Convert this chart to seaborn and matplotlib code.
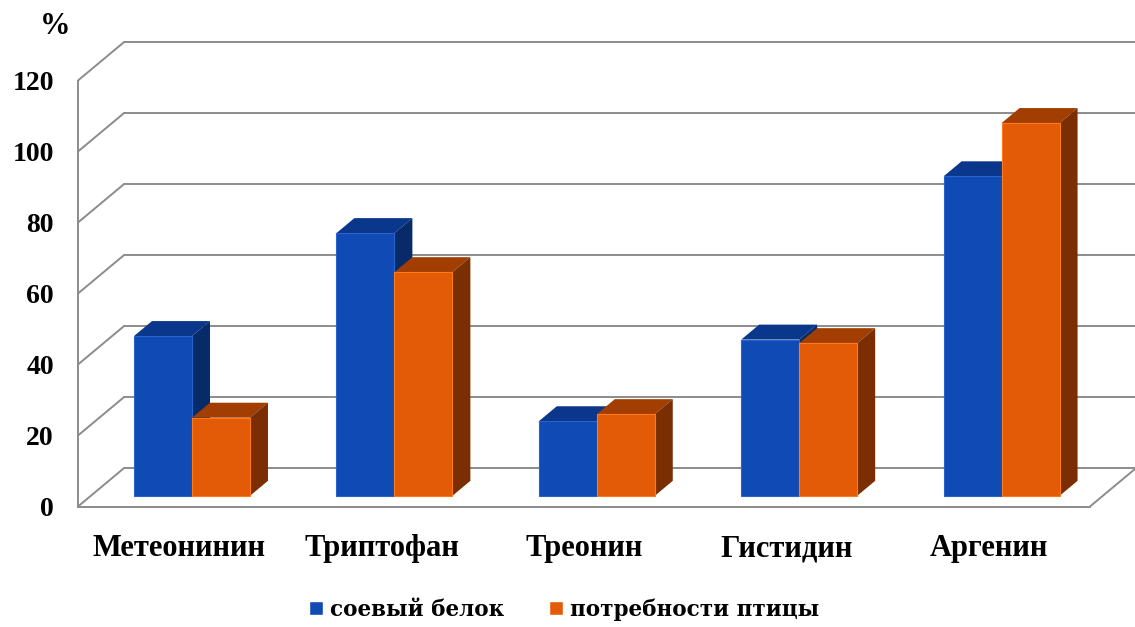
import matplotlib
matplotlib.use("Agg")
import matplotlib.pyplot as plt
from matplotlib.patches import Polygon
import pandas as pd
import seaborn as sns

# ---- data ----
amino_acids = ["Метеонинин", "Триптофан", "Треонин", "Гистидин", "Аргенин"]
soy_protein = [45, 74, 21, 44, 90]
bird_needs = [22, 63, 23, 43, 105]
series_names = ["соевый белок", "потребности птицы"]
y_ticks = [0, 20, 40, 60, 80, 100, 120]

# ---- style ----
W, H, DPI = 1135, 627, 100
sns.set_style("white")
plt.rcParams["font.family"] = ["Liberation Serif", "DejaVu Serif"]
plt.rcParams["font.weight"] = "bold"
plt.rcParams["text.color"] = "black"
plt.rcParams["xtick.labelcolor"] = "black"
plt.rcParams["ytick.labelcolor"] = "black"

front_col = {series_names[0]: "#0F4AB5", series_names[1]: "#E35B07"}
top_col = {series_names[0]: "#0A378C", series_names[1]: "#A23E02"}
side_col = {series_names[0]: "#072B68", series_names[1]: "#7A2E01"}
edge_col = {series_names[0]: "#2A62CC", series_names[1]: "#FF7A1A"}
grid_col = "#8C8C8C"

# oblique projection of the depth axis (data units)
DX, DY = 0.227, 10.8           # full floor depth
Z_FRONT, Z_DEPTH = 0.28, 0.39  # bar front plane and bar thickness, as depth fractions
PAIR_W = 0.573
n = len(amino_acids)
x0 = -0.5 - Z_FRONT * DX       # left edge of the front floor edge
ymax = y_ticks[-1]

# pixel scale of the plot area
PX_X, PX_Y = 202.4, 3.55
LEFT_PX, ZERO_PX = 78, 506.5

fig = plt.figure(figsize=(W / DPI, H / DPI), dpi=DPI)
ax = fig.add_axes([0, 0, 1, 1])

df = pd.DataFrame({
    "amino": amino_acids * 2,
    "value": soy_protein + bird_needs,
    "series": [series_names[0]] * n + [series_names[1]] * n,
})
sns.barplot(data=df, x="amino", y="value", hue="series", order=amino_acids,
            hue_order=series_names, palette=[front_col[s] for s in series_names],
            saturation=1, width=PAIR_W, errorbar=None, ax=ax)

handles, labels = ax.get_legend_handles_labels()
if ax.get_legend() is not None:
    ax.get_legend().remove()

# extrude each bar into a box: front face lifted to its depth plane, plus top and side faces
base = Z_FRONT * DY
ddx, ddy = Z_DEPTH * DX, Z_DEPTH * DY
for j, (name, cont) in enumerate(zip(series_names, ax.containers)):
    for bar in cont:
        bar.set_y(bar.get_y() + base)
        bar.set_zorder(3.1 + 0.2 * j)
        bar.set_edgecolor(edge_col[name])
        bar.set_linewidth(0.8)
        x, y, w, h = bar.get_x(), bar.get_y(), bar.get_width(), bar.get_height()
        ax.add_patch(Polygon([(x, y + h), (x + ddx, y + h + ddy),
                              (x + w + ddx, y + h + ddy), (x + w, y + h)],
                             closed=True, fc=top_col[name], ec="none",
                             zorder=3.0 + 0.2 * j))
        ax.add_patch(Polygon([(x + w, y), (x + w + ddx, y + ddy),
                              (x + w + ddx, y + h + ddy), (x + w, y + h)],
                             closed=True, fc=side_col[name], ec="none",
                             zorder=3.0 + 0.2 * j))

# back wall, left wall and floor lines
glw = 1.4
for v in y_ticks:
    ax.plot([x0 + DX, x0 + n + DX], [v + DY, v + DY], color=grid_col, lw=glw, zorder=1)
    ax.plot([x0, x0 + DX], [v, v + DY], color=grid_col, lw=glw, zorder=1)
ax.plot([x0 + n, x0 + n + DX], [0, DY], color=grid_col, lw=glw, zorder=1)

# axes
for s in ("top", "right"):
    ax.spines[s].set_visible(False)
ax.spines["left"].set_position(("data", x0))
ax.spines["left"].set_bounds(0, ymax)
ax.spines["bottom"].set_position(("data", 0))
ax.spines["bottom"].set_bounds(x0, x0 + n)
for s in ("left", "bottom"):
    ax.spines[s].set_color(grid_col)
    ax.spines[s].set_linewidth(glw)

ax.set_yticks(y_ticks)
ax.set_yticklabels([str(v) for v in y_ticks], fontsize=20, fontweight="bold")
ax.tick_params(axis="y", direction="out", length=4.3, width=glw, color=grid_col, pad=13)

ax.set_xticks([x0 + 0.5 + i for i in range(n)])
ax.set_xticklabels(amino_acids, fontsize=22, fontweight="bold")
ax.set_xticks([x0 + i for i in range(n + 1)], minor=True)
ax.tick_params(axis="x", which="major", length=0, pad=20)
ax.tick_params(axis="x", which="minor", direction="out", length=4.3, width=glw,
               color=grid_col)
ax.set_xlabel("")
ax.set_ylabel("")

ax.set_xlim(x0 - LEFT_PX / PX_X, x0 - LEFT_PX / PX_X + W / PX_X)
ax.set_ylim(-(H - ZERO_PX) / PX_Y, ZERO_PX / PX_Y)

fig.text(55 / W, 1 - 26 / H, "%", ha="center", va="center", fontsize=22, fontweight="bold")

fig.legend(handles, labels, loc="center", bbox_to_anchor=(0.497, 0.028), ncol=2,
           frameon=False, handlelength=0.65, handleheight=0.65, handletextpad=0.3,
           columnspacing=2.1,
           prop={"family": ["DejaVu Serif"], "weight": "bold", "size": 15.5})

fig.savefig("out.png", dpi=DPI)
